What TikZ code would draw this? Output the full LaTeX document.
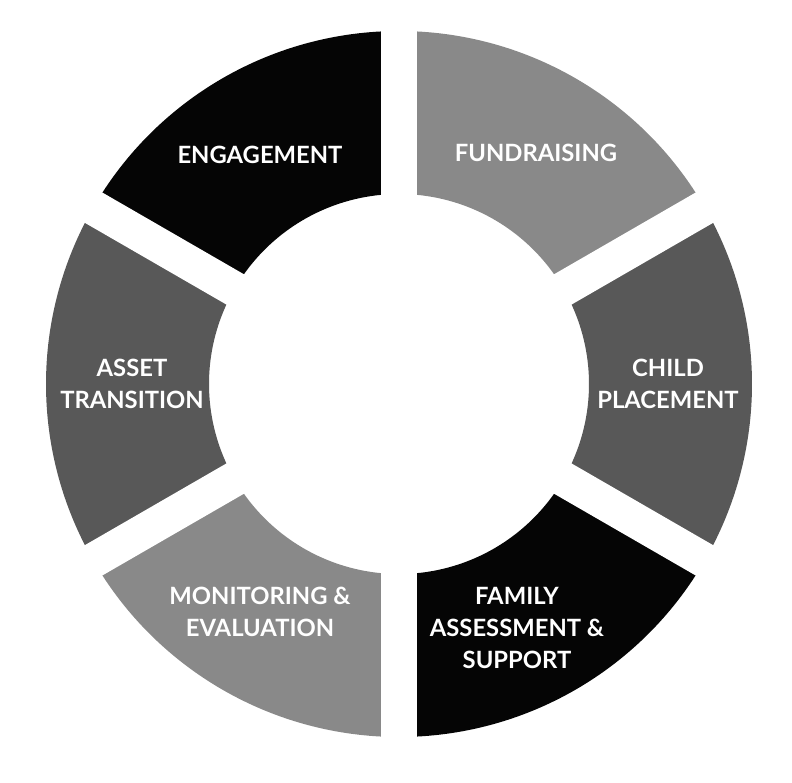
\documentclass[tikz,border=0pt]{standalone}
\usepackage{fontspec}
\setmainfont{Lato}
\begin{document}
\begin{tikzpicture}[x=1pt,y=1pt,
  gapline/.style={draw=white,line width=35pt},
  lab/.style={text=white,font=\fontsize{23.8}{32}\selectfont\bfseries,align=center,inner sep=0pt}]
\useasboundingbox[fill=white] (-399,-398) rectangle (393,384);
\def\Ro{353}\def\Ri{190}
\definecolor{blk}{HTML}{050505}
\definecolor{lgr}{HTML}{898989}
\definecolor{dgr}{HTML}{585858}
% sectors
\fill[blk] (90:\Ro) arc[start angle=90,end angle=150,radius=\Ro] -- (150:\Ri) arc[start angle=150,end angle=90,radius=\Ri] -- cycle;
\fill[lgr] (30:\Ro) arc[start angle=30,end angle=90,radius=\Ro] -- (90:\Ri) arc[start angle=90,end angle=30,radius=\Ri] -- cycle;
\fill[dgr] (-30:\Ro) arc[start angle=-30,end angle=30,radius=\Ro] -- (30:\Ri) arc[start angle=30,end angle=-30,radius=\Ri] -- cycle;
\fill[blk] (-90:\Ro) arc[start angle=-90,end angle=-30,radius=\Ro] -- (-30:\Ri) arc[start angle=-30,end angle=-90,radius=\Ri] -- cycle;
\fill[lgr] (-150:\Ro) arc[start angle=-150,end angle=-90,radius=\Ro] -- (-90:\Ri) arc[start angle=-90,end angle=-150,radius=\Ri] -- cycle;
\fill[dgr] (150:\Ro) arc[start angle=150,end angle=210,radius=\Ro] -- (210:\Ri) arc[start angle=210,end angle=150,radius=\Ri] -- cycle;
% gaps
\coordinate (g1a) at (90:360); \coordinate (g1b) at (270:360);
\coordinate (g2a) at (30:360); \coordinate (g2b) at (210:360);
\coordinate (g3a) at (-30:360); \coordinate (g3b) at (150:360);
\draw[gapline] (g1a) -- (g1b);
\draw[gapline] (g2a) -- (g2b);
\draw[gapline] (g3a) -- (g3b);
% labels
\node[lab] (eng) at (-139,229) {ENGAGEMENT};
\node[lab] (fun) at (137,231) {FUNDRAISING};
\node[lab] (chi) at (269,0) {CHILD\\PLACEMENT};
\node[lab] (fam) at (118,-244) {FAMILY\\ASSESSMENT \&\\SUPPORT};
\node[lab] (mon) at (-139,-228) {MONITORING \&\\EVALUATION};
\node[lab] (ass) at (-267,0) {ASSET\\TRANSITION};
\end{tikzpicture}
\end{document}
